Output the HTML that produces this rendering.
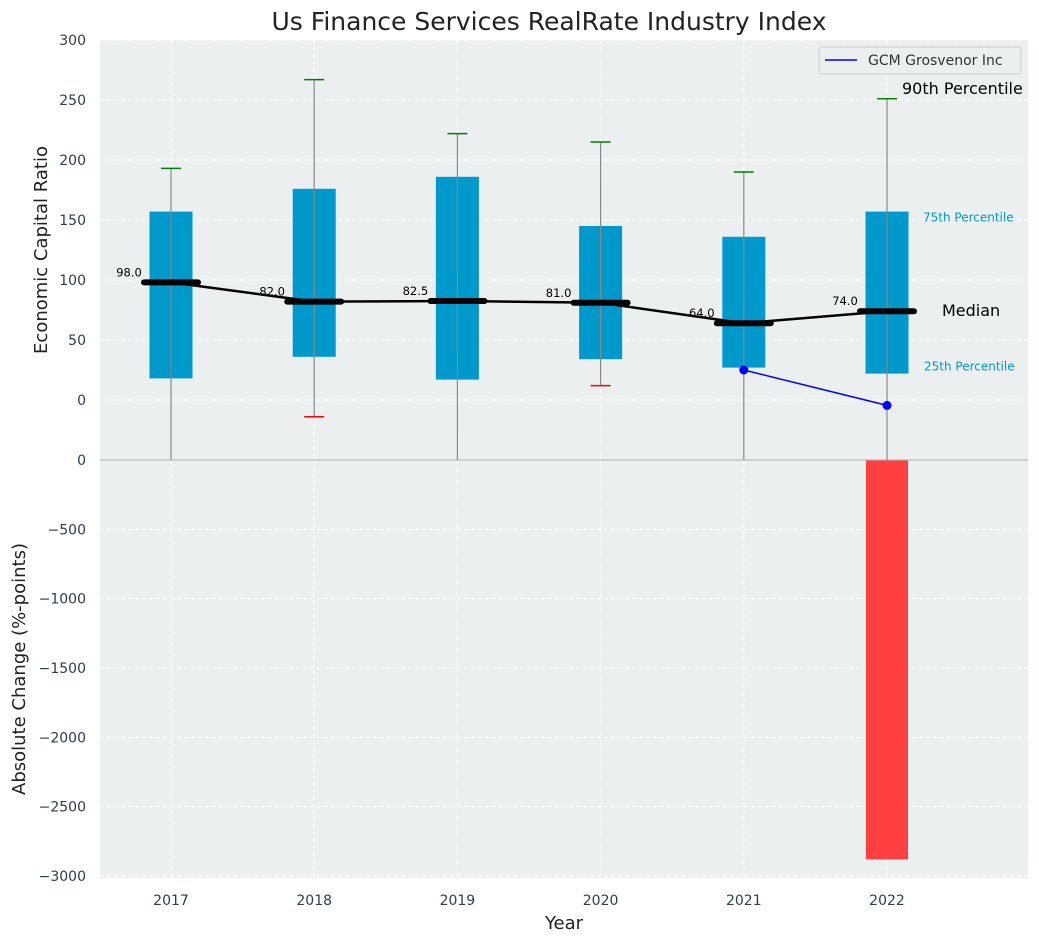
<!DOCTYPE html>
<html><head><meta charset="utf-8"><style>
body{margin:0;background:#fff;font-family:"DejaVu Sans","Liberation Sans",sans-serif}
svg text{font-family:"DejaVu Sans","Liberation Sans",sans-serif}
</style></head><body>
<svg id="c" width="1039" height="942" xmlns="http://www.w3.org/2000/svg"></svg>
<script>
const years=[2017,2018,2019,2020,2021,2022];
const q1=[18,36,17,34,27,22];
const q3=[157,176,186,145,136,157];
const whiskHi=[193,267,222,215,190,251];
const whiskLo=[-100,-14,-100,12,-100,-100];
const medians=[98,82,82.5,81,64,74];
const medLabels=["98.0","82.0","82.5","81.0","64.0","74.0"];
const gcmYears=[2021,2022];
const gcmVals=[25,-4.5];
const changeVals=[0,0,0,0,0,-2880];
const topTicks=[0,50,100,150,200,250,300];
const botTicks=[0,-500,-1000,-1500,-2000,-2500,-3000];

const L=100,R=1028,T1=40,B1=460,B2=878;
const x=v=>171+(v-2017)*143.2;
const y1=v=>400-v*1.2;
function yb(v){return 460+(-v)*0.13867;}
const svg=document.getElementById('c');
const NS='http://www.w3.org/2000/svg';
function el(t,a,txt){const e=document.createElementNS(NS,t);for(const k in a)e.setAttribute(k,a[k]);if(txt!==undefined)e.textContent=txt;svg.appendChild(e);return e;}
let e;
e=el('rect',{x:L,y:T1,width:R-L,height:B1-T1,fill:'#ebeff0'});

e=el('rect',{x:L,y:B1,width:R-L,height:B2-B1,fill:'#ebeff0'});

const cp=el('clipPath',{id:'cl'});const cr=document.createElementNS(NS,'rect');
cr.setAttribute('x',L);cr.setAttribute('y',T1);cr.setAttribute('width',R-L);cr.setAttribute('height',B1-T1);cp.appendChild(cr);
years.forEach(v=>{e=el('line',{x1:x(v),x2:x(v),y1:T1,y2:B2,stroke:'#fff','stroke-dasharray':'4,3'});

e=el('text',{x:x(v),y:905,'text-anchor':'middle','font-size':14,fill:'#2e3e50'},v);
});
topTicks.forEach(v=>{e=el('line',{x1:L,x2:R,y1:y1(v),y2:y1(v),stroke:'#fff','stroke-dasharray':'4,3'});

e=el('text',{x:86,y:y1(v)+5,'text-anchor':'end','font-size':14,fill:'#2e3e50'},v);
});
botTicks.forEach(v=>{e=el('line',{x1:L,x2:R,y1:yb(v),y2:yb(v),stroke:'#fff','stroke-dasharray':'4,3'});

e=el('text',{x:86,y:yb(v)+5,'text-anchor':'end','font-size':14,fill:'#2e3e50'},v==0?'0':'\u2212'+(-v));
});
const g=el('g',{'clip-path':'url(#cl)'});
function gel(t,a){const n=document.createElementNS(NS,t);for(const k in a)n.setAttribute(k,a[k]);g.appendChild(n);return n;}
years.forEach((v,i)=>{
 const bw=43;
 e=gel('rect',{x:x(v)-bw/2,y:y1(q3[i]),width:bw,height:y1(q1[i])-y1(q3[i]),fill:'#0099cc'});
 
 e=gel('line',{x1:x(v),x2:x(v),y1:y1(whiskHi[i]),y2:y1(whiskLo[i]),stroke:'#888','stroke-width':1.2});
 
 e=gel('line',{x1:x(v)-10,x2:x(v)+10,y1:y1(whiskHi[i]),y2:y1(whiskHi[i]),stroke:'green','stroke-width':1.5});
 
 e=gel('line',{x1:x(v)-10,x2:x(v)+10,y1:y1(whiskLo[i]),y2:y1(whiskLo[i]),stroke:'red','stroke-width':1.5});
 
});
e=gel('polyline',{points:years.map((v,i)=>x(v)+','+y1(medians[i])).join(' '),fill:'none',stroke:'#000','stroke-width':2.5});

years.forEach((v,i)=>{
 e=gel('line',{x1:x(v)-27,x2:x(v)+27,y1:y1(medians[i]),y2:y1(medians[i]),stroke:'#000','stroke-width':6,'stroke-linecap':'round'});
 
 e=el('text',{x:x(v)-42,y:y1(medians[i])-6,'text-anchor':'middle','font-size':11.5,fill:'#000'},medLabels[i]);
 
});
e=gel('polyline',{points:gcmYears.map((v,i)=>x(v)+','+y1(gcmVals[i])).join(' '),fill:'none',stroke:'blue','stroke-width':1.5});

gcmYears.forEach((v,i)=>{e=gel('circle',{cx:x(v),cy:y1(gcmVals[i]),r:4.5,fill:'blue'});
});
years.forEach((v,i)=>{if(changeVals[i]!==0){
 e=el('rect',{x:x(v)-21,y:yb(Math.max(0,changeVals[i])),width:42,height:Math.abs(yb(changeVals[i])-yb(0)),fill:'#ff4040'});
 }});
e=el('line',{x1:L,x2:R,y1:460,y2:460,stroke:'#b0b0b0','stroke-width':1});

const i5=5;
e=el('text',{x:902,y:y1(whiskHi[i5])-5,'font-size':16,fill:'#000'},'90th Percentile');

e=el('text',{x:923,y:y1(q3[i5])+10,'font-size':12,fill:'#0099cc'},'75th Percentile');

e=el('text',{x:942,y:y1(medians[i5])+5,'font-size':16,fill:'#000'},'Median');

e=el('text',{x:924,y:y1(q1[i5])-3,'font-size':12,fill:'#0099cc'},'25th Percentile');

e=el('rect',{x:819,y:47,width:202,height:27,rx:3,fill:'#ebeff0',stroke:'#ccc'});

e=el('line',{x1:825,x2:857,y1:60,y2:60,stroke:'blue','stroke-width':1.5});

e=el('text',{x:868,y:65,'font-size':14,fill:'#333'},'GCM Grosvenor Inc');

e=el('text',{x:549,y:30,'text-anchor':'middle','font-size':25,fill:'#222'},'Us Finance Services RealRate Industry Index');

e=el('text',{x:564,y:929,'text-anchor':'middle','font-size':18,fill:'#222'},'Year');

e=el('text',{x:0,y:0,'text-anchor':'middle','font-size':18,fill:'#222',transform:'translate(47,250) rotate(-90)'},'Economic Capital Ratio');

e=el('text',{x:0,y:0,'text-anchor':'middle','font-size':18,fill:'#222',transform:'translate(25,669) rotate(-90)'},'Absolute Change (%-points)');

</script>
</body></html>
